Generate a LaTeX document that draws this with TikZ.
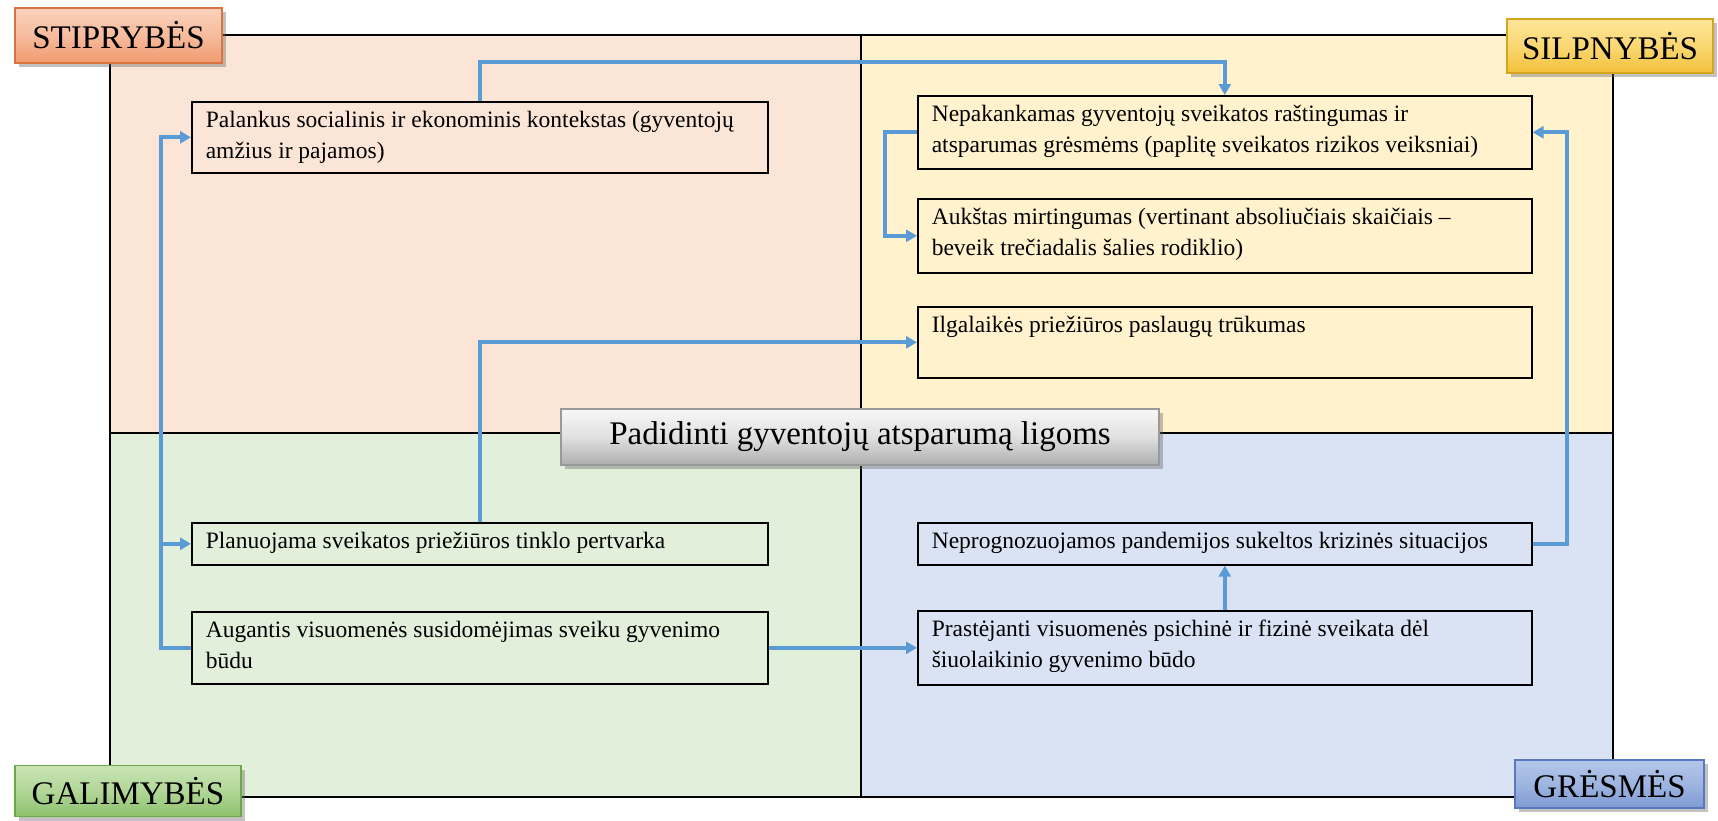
\documentclass[tikz,border=0pt]{standalone}
\usepackage{fontspec}
\setmainfont{Liberation Serif}
\usetikzlibrary{arrows.meta,shadows}
\definecolor{qS}{HTML}{FBE5D6}
\definecolor{qW}{HTML}{FFF2CC}
\definecolor{qO}{HTML}{E2EFDA}
\definecolor{qT}{HTML}{DAE3F3}
\definecolor{arrowblue}{HTML}{5B9BD5}
\definecolor{sTop}{HTML}{FAD2BC}\definecolor{sBot}{HTML}{F09A6E}\definecolor{sEdge}{HTML}{D9733F}
\definecolor{wTop}{HTML}{FFE699}\definecolor{wBot}{HTML}{F2C13A}\definecolor{wEdge}{HTML}{D6A520}
\definecolor{oTop}{HTML}{C9E4B5}\definecolor{oBot}{HTML}{8DC26B}\definecolor{oEdge}{HTML}{6FA84C}
\definecolor{tTop}{HTML}{B4C7EA}\definecolor{tBot}{HTML}{7E9AD3}\definecolor{tEdge}{HTML}{5A78C0}
\newcommand\swotbox[7]{%
  \node[txtbox, fill=#7, minimum width=#4pt, minimum height=#5pt, anchor=north west] (#1) at (#2,#3)
  {\parbox[c][\dimexpr#5pt-12pt\relax][t]{\dimexpr#4pt-28pt\relax}{\vspace*{3pt}\raggedright #6}};}
\tikzset{
  txtbox/.style={draw=black, line width=1.6pt, inner xsep=14pt, inner ysep=6pt,
    font=\fontsize{23.5}{31}\selectfont},
  conn/.style={draw=arrowblue, line width=3.8pt, line join=miter,
    -{Triangle[length=11pt,width=12pt]}},
  quadline/.style={draw=black, line width=1.4pt},
  corner/.style={line width=1.2pt, inner sep=0pt, font=\fontsize{33}{33}\selectfont,
    drop shadow={shadow xshift=4pt, shadow yshift=-4pt, opacity=0.4, fill=black!60}},
}
\begin{document}
\begin{tikzpicture}[x=1pt,y=-1pt]
\useasboundingbox (0,0) rectangle (1718,820);
% quadrants
\fill[qS] (110,35) rectangle (861,433);
\fill[qW] (861,35) rectangle (1613,433);
\fill[qO] (110,433) rectangle (861,797);
\fill[qT] (861,433) rectangle (1613,797);
\draw[quadline] (110,35) rectangle (1613,797);
\draw[quadline] (861,35) -- (861,797);
\draw[quadline] (110,433) -- (1613,433);
% boxes
\swotbox{s1}{191}{101}{576}{71}{Palankus socialinis ir ekonominis kontekstas (gyventojų\\amžius ir pajamos)}{qS}
\swotbox{w1}{917}{95}{614}{73}{Nepakankamas gyventojų sveikatos raštingumas ir\\atsparumas grėsmėms (paplitę sveikatos rizikos veiksniai)}{qW}
\swotbox{w2}{917}{198}{614}{74}{Aukštas mirtingumas (vertinant absoliučiais skaičiais –\\beveik trečiadalis šalies rodiklio)}{qW}
\swotbox{w3}{917}{306}{614}{71}{Ilgalaikės priežiūros paslaugų trūkumas}{qW}
\swotbox{o1}{191}{522}{576}{42}{Planuojama sveikatos priežiūros tinklo pertvarka}{qO}
\swotbox{o2}{191}{611}{576}{72}{Augantis visuomenės susidomėjimas sveiku gyvenimo\\būdu}{qO}
\swotbox{t1}{917}{522}{614}{42}{Neprognozuojamos pandemijos sukeltos krizinės situacijos}{qT}
\swotbox{t2}{917}{610}{614}{74}{Prastėjanti visuomenės psichinė ir fizinė sveikata dėl\\šiuolaikinio gyvenimo būdo}{qT}
% connectors
\coordinate (vx) at (161,0);
\draw[conn] (s1.north) -- ++(0,-39) -| (w1.north);
\draw[conn] (w1.west) -- ++(-32,0) |- (w2.west);
\draw[conn] (o1.north) |- (w3.west);
\draw[conn] (o2.west) -- (vx |- o2.west) |- (s1.west);
\draw[conn] (vx |- o1.west) -- (o1.west);
\draw[conn] (o2.east) -- (t2.west);
\draw[conn] (t2.north) -- (t1.south);
\draw[conn] (t1.east) -- ++(34,0) |- (w1.east);
% corner labels
\node[corner, draw=sEdge, top color=sTop, bottom color=sBot, middle color=sTop!60!sBot,
  minimum width=207pt, minimum height=55pt] (lS) at (118.5,35.5) {STIPRYBĖS};
\node[corner, draw=wEdge, top color=wTop, bottom color=wBot, middle color=wTop!60!wBot,
  minimum width=206pt, minimum height=54pt] (lW) at (1610,46) {SILPNYBĖS};
\node[corner, draw=oEdge, top color=oTop, bottom color=oBot, middle color=oTop!60!oBot,
  minimum width=226pt, minimum height=51pt] (lO) at (128,791) {GALIMYBĖS};
\node[corner, draw=tEdge, top color=tTop, bottom color=tBot, middle color=tTop!60!tBot,
  minimum width=189pt, minimum height=48pt] (lT) at (1609.5,784) {GRĖSMĖS};
% center
\node[corner, draw=black!40, top color=black!3, bottom color=black!32, middle color=black!12,
  minimum width=598pt, minimum height=56pt, font=\fontsize{33}{33}\selectfont] (c) at (860,437)
  {Padidinti gyventojų atsparumą ligoms};
\end{tikzpicture}
\end{document}
